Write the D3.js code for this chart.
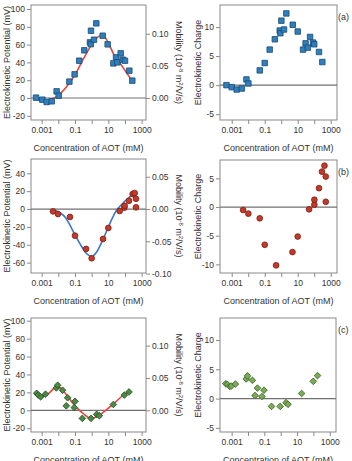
<!DOCTYPE html>
<html>
<head>
<meta charset="utf-8">
<script src="https://cdn.jsdelivr.net/npm/d3@7"></script>
<style>
    body { margin: 0; background: #fff; }
    text { font-family: "Liberation Sans", Arial, sans-serif; fill: #333; }
</style>
</head>
<body>
<div id="chart"></div>
<script>
// ---- data (concentration of AOT in mM) ----
const decadeTicks = [0.001, 0.01, 0.1, 1, 10, 100, 1000];
const decadeLabels = [0.001, 0.1, 10, 1000];

// (a) potential (mV)
const concA = [0.00046, 0.0011, 0.002, 0.004, 0.0079, 0.0105, 0.046, 0.095, 0.18, 0.36, 0.79, 0.89, 0.91, 1.38, 1.9, 4.6, 9.1, 20, 29, 35, 55, 72, 100, 182, 275];
const potA = [0.4, -1.9, -4.5, -3.7, 7.5, 2.6, 18.4, 26.6, 41.9, 53.6, 62.5, 60.5, 75.6, 65.5, 83.9, 70.0, 60.3, 38.9, 45.7, 40.1, 50.2, 43.1, 41.9, 30.7, 19.5];
const fitConcA = [0.00046, 0.001, 0.002, 0.004, 0.01, 0.032, 0.1, 0.32, 1, 2, 4.5, 10, 20, 50, 100, 275];
const fitPotA = [-0.5, -2.8, -3.3, -1.5, 3, 13, 26, 44, 60, 67.5, 70.5, 62, 50, 39, 31, 19];
// (a) charge
const chConcA = [0.00048, 0.001, 0.002, 0.0041, 0.0078, 0.0102, 0.05, 0.1, 0.2, 0.41, 0.81, 0.89, 1.02, 1.48, 2.04, 5.0, 10, 21, 30, 41, 56, 85, 100, 195, 309];
const chargeA = [0, -0.35, -0.75, -0.58, 0.98, 0.29, 2.54, 3.81, 6.12, 7.9, 9.4, 8.94, 11.1, 9.58, 12.35, 10.4, 9.23, 6.12, 7.2, 6.46, 8.3, 7.33, 7.04, 5.71, 3.98];

// (b) potential (mV)
const concB = [0.0048, 0.0095, 0.05, 0.1, 0.46, 1.0, 4.8, 10, 48, 91, 95, 174, 288, 380, 457, 457];
const potB = [-2.6, -5.6, -8.9, -29.8, -44.7, -55.1, -33.5, -21.2, -2.2, 1.5, 3.7, 9.3, 16.8, 17.9, 11.5, 1.9];
const fitConcB = [0.0048, 0.01, 0.025, 0.05, 0.1, 0.25, 0.5, 1, 2, 4.8, 10, 18, 35, 63, 100, 200, 417];
const fitPotB = [-1, -3, -9, -18, -29, -42, -50, -53, -48, -34, -20, -9.5, 0, 5, 9, 14, 17.5];
// (b) charge
const chConcB = [0.0049, 0.0102, 0.05, 0.1, 0.49, 4.8, 10, 49, 102, 102, 195, 295, 417, 501, 501];
const chargeB = [-0.52, -1.15, -1.96, -6.58, -10.16, -7.85, -5.14, -0.4, 0.4, 1.27, 3.29, 6.17, 7.21, 5.31, 0.92];

// (c) potential (mV)
const concC = [0.0005, 0.00063, 0.00087, 0.0017, 0.0076, 0.0091, 0.018, 0.036, 0.03, 0.091, 0.1, 0.275, 0.91, 2.0, 2.9, 20, 91, 174];
const potC = [19, 17, 15, 18, 25, 28, 22.4, 14, 5, 3, 10, -9, -9, -4.5, -6, 6.5, 17, 20.5];
const fitConcC = [0.0005, 0.001, 0.0025, 0.0087, 0.02, 0.05, 0.126, 0.316, 0.87, 2.5, 7.9, 18, 91, 174];
const fitPotC = [18, 16, 18.6, 27, 21.6, 12, 3, -3.7, -9, -6, 0.7, 6.3, 17.5, 20];
// (c) charge
const chConcC = [0.00044, 0.00055, 0.00076, 0.00095, 0.0017, 0.0078, 0.0093, 0.0186, 0.038, 0.027, 0.072, 0.095, 0.275, 0.93, 2.1, 2.8, 19, 98, 178];
const chargeC = [2.54, 2.42, 2.08, 2.13, 2.48, 3.35, 3.87, 3.12, 1.79, 0.52, 0.35, 1.44, -1.33, -1.33, -0.69, -0.98, 0.87, 2.94, 3.92];

const mvPerMobility = 722;

let svg = d3.select('#chart').append('svg')
    .attr('width', 352)
    .attr('height', 461);

const hyphen = s => s.replace('\u2212', '-');

function Panel(opts) {
    this.opts = opts;
    this.init();
}

Panel.prototype.init = function() {
    let vis = this;
    let o = vis.opts;

    vis.g = svg.append('g');
    vis.x = d3.scaleLog().domain(o.xDomain).range([o.left, o.right]);
    vis.y = d3.scaleLinear().domain(o.yDomain).range([o.bottom, o.top]);

    // bottom axis
    let xAxis = d3.axisBottom(vis.x)
        .tickValues(decadeTicks)
        .tickSize(4)
        .tickPadding(3)
        .tickFormat(d => decadeLabels.includes(d) ? String(d) : '');
    let gx = vis.g.append('g')
        .attr('transform', `translate(0,${o.bottom})`)
        .call(xAxis);
    vis.styleAxis(gx);

    // left axis
    let yAxis = d3.axisLeft(vis.y)
        .tickValues(o.yTicks)
        .tickSize(4)
        .tickPadding(2)
        .tickFormat(d => hyphen(String(d)));
    let gy = vis.g.append('g')
        .attr('transform', `translate(${o.left},0)`)
        .call(yAxis);
    vis.styleAxis(gy);

    // right mobility axis (potential panels only)
    if (o.mobTicks) {
        vis.yMob = d3.scaleLinear()
            .domain(o.yDomain.map(v => v / mvPerMobility))
            .range([o.bottom, o.top]);
        let gm = vis.g.append('g')
            .attr('transform', `translate(${o.right},0)`)
            .call(d3.axisRight(vis.yMob)
                .tickValues(o.mobTicks)
                .tickSize(4)
                .tickPadding(2)
                .tickFormat(d => hyphen(d3.format('.2f')(d))));
        vis.styleAxis(gm);

        let mob = vis.g.append('text')
            .attr('transform', `translate(${o.right + 33},${(o.top + o.bottom) / 2}) rotate(90)`)
            .attr('text-anchor', 'middle')
            .attr('dy', '0.35em')
            .style('font-size', '9px');
        mob.append('tspan').text('Mobility (10');
        mob.append('tspan').attr('dy', -3).style('font-size', '6px').text('-8');
        mob.append('tspan').attr('dy', 3).text(' m');
        mob.append('tspan').attr('dy', -3).style('font-size', '6px').text('2');
        mob.append('tspan').attr('dy', 3).text('/V/s)');
    }

    // frame and zero line
    vis.g.append('rect')
        .attr('x', o.left)
        .attr('y', o.top)
        .attr('width', o.right - o.left)
        .attr('height', o.bottom - o.top)
        .attr('fill', 'none')
        .attr('stroke', '#8a8a8a')
        .attr('stroke-width', 1);
    vis.g.append('line')
        .attr('x1', o.left)
        .attr('x2', o.right)
        .attr('y1', vis.y(0))
        .attr('y2', vis.y(0))
        .attr('stroke', '#707070')
        .attr('stroke-width', 1.2);

    // axis titles
    vis.g.append('text')
        .attr('x', (o.left + o.right) / 2)
        .attr('y', o.bottom + 31)
        .attr('text-anchor', 'middle')
        .style('font-size', '9px')
        .text('Concentration of AOT (mM)');
    vis.g.append('text')
        .attr('transform', `translate(${o.left - o.titleGap},${(o.top + o.bottom) / 2}) rotate(-90)`)
        .attr('text-anchor', 'middle')
        .attr('dy', '0.35em')
        .style('font-size', '9px')
        .text(o.yTitle);

    if (o.tag) {
        vis.g.append('text')
            .attr('x', 338)
            .attr('y', o.top + 15)
            .style('font-size', '9px')
            .text(o.tag);
    }
}

Panel.prototype.styleAxis = function(g) {
    g.select('.domain').remove();
    g.selectAll('.tick line').attr('stroke', '#8a8a8a');
    g.selectAll('.tick text')
        .style('font-size', '8.5px')
        .style('font-family', '"Liberation Sans", Arial, sans-serif')
        .attr('fill', '#333');
}

Panel.prototype.update = function(xs, ys, marker, fit) {
    let vis = this;

    if (fit) {
        let line = d3.line()
            .x(d => vis.x(d[0]))
            .y(d => vis.y(d[1]))
            .curve(d3.curveMonotoneX);
        vis.g.append('path')
            .datum(d3.zip(fit.xs, fit.ys))
            .attr('d', line)
            .attr('fill', 'none')
            .attr('stroke', fit.color)
            .attr('stroke-width', 1.6);
    }

    let sym = d3.symbol().type(marker.type).size(marker.size);
    vis.g.selectAll('.pt')
        .data(d3.zip(xs, ys))
        .enter()
        .append('path')
        .attr('class', 'pt')
        .attr('d', sym)
        .attr('transform', d => `translate(${vis.x(d[0])},${vis.y(d[1])}) rotate(${marker.rotate || 0})`)
        .attr('fill', marker.fill)
        .attr('stroke', marker.stroke)
        .attr('stroke-width', 0.8);
}

const leftX = [Math.pow(10, -3.64), Math.pow(10, 3.26)];
const rightX = [Math.pow(10, -3.71), Math.pow(10, 3.38)];

const squareA = { type: d3.symbolSquare, size: 30, fill: '#2f7fbd', stroke: '#1b4a72' };
const circleB = { type: d3.symbolCircle, size: 26, fill: '#c33a2a', stroke: '#7a2014' };
const diamondL = { type: d3.symbolSquare, size: 22, rotate: 45, fill: '#4a8b45', stroke: '#2a4f26' };
const diamondR = { type: d3.symbolSquare, size: 22, rotate: 45, fill: '#7aab55', stroke: '#3d6428' };

// (a)
new Panel({ left: 31, right: 146, top: 5, bottom: 120, xDomain: leftX, yDomain: [-24.7, 104.5], titleGap: 24.5,
    yTicks: [-20, 0, 20, 40, 60, 80, 100], mobTicks: [0, 0.05, 0.1], yTitle: 'Electrokinetic Potential (mV)' })
    .update(concA, potA, squareA, { xs: fitConcA, ys: fitPotA, color: '#e8453c' });
new Panel({ left: 220, right: 337, top: 5, bottom: 120, xDomain: rightX, yDomain: [-6.0, 13.8], titleGap: 22,
    yTicks: [-5, 0, 5, 10], yTitle: 'Electrokinetic Charge', tag: '(a)' })
    .update(chConcA, chargeA, squareA);

// (b)
new Panel({ left: 31, right: 146, top: 159, bottom: 273, xDomain: leftX, yDomain: [-71.6, 56], titleGap: 24.5,
    yTicks: [-60, -40, -20, 0, 20, 40], mobTicks: [-0.1, -0.05, 0, 0.05], yTitle: 'Electrokinetic Potential (mV)' })
    .update(concB, potB, circleB, { xs: fitConcB, ys: fitPotB, color: '#3a78c8' });
new Panel({ left: 220, right: 337, top: 160, bottom: 273, xDomain: rightX, yDomain: [-11.5, 8.2], titleGap: 22,
    yTicks: [-10, -5, 0, 5], yTitle: 'Electrokinetic Charge', tag: '(b)' })
    .update(chConcB, chargeB, circleB);

// (c)
new Panel({ left: 31, right: 146, top: 318, bottom: 432, xDomain: leftX, yDomain: [-24.2, 103], titleGap: 24.5,
    yTicks: [-20, 0, 20, 40, 60, 80, 100], mobTicks: [0, 0.05, 0.1], yTitle: 'Electrokinetic Potential (mV)' })
    .update(concC, potC, diamondL, { xs: fitConcC, ys: fitPotC, color: '#e8453c' });
new Panel({ left: 220, right: 336, top: 318, bottom: 432, xDomain: rightX, yDomain: [-5.7, 13.75], titleGap: 22,
    yTicks: [-5, 0, 5, 10], yTitle: 'Electrokinetic Charge', tag: '(c)' })
    .update(chConcC, chargeC, diamondR);
</script>
</body>
</html>
